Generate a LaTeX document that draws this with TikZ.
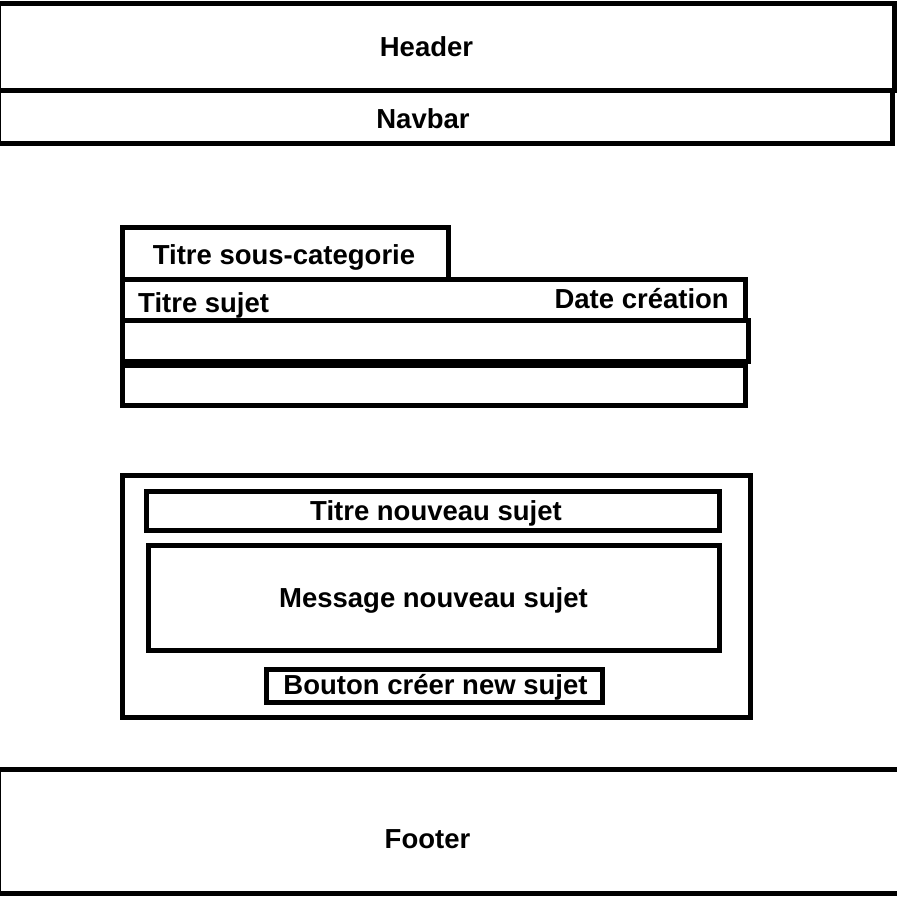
\documentclass[tikz,border=0pt]{standalone}
\usepackage{fontspec}
\setmainfont{Liberation Sans}
\begin{document}
\begin{tikzpicture}[x=1bp,y=-1bp,
		box/.style={line width=5bp},
		lbl/.style={font=\bfseries\fontsize{27.6}{32}\selectfont, inner sep=0pt, anchor=base}]
		\useasboundingbox (0,0) rectangle (897,900);
		\clip (0,0) rectangle (897,900);

		\coordinate (H1) at (-1.5,3.5);
		\coordinate (H2) at (894.5,90);
		\coordinate (N1) at (-1.5,90);
		\coordinate (N2) at (892.5,143.5);
		\coordinate (F1) at (-1.5,769.5);
		\coordinate (F2) at (905,893.5);

		\draw[box] (H1) rectangle (H2);
		\draw[box] (N1) rectangle (N2);
		\draw[box] (F1) rectangle (F2);

		\draw[box] (122.5,227.5) rectangle (448.5,279.5);
		\draw[box] (122.5,279.5) rectangle (745.5,320);
		\draw[box] (122.5,320) rectangle (748.5,361);
		\draw[box] (122.5,365) rectangle (745.5,405);

		\draw[box] (122.5,475.5) rectangle (750.5,717.5);
		\draw[box] (146.5,491.5) rectangle (719.5,530.5);
		\draw[box] (148.5,545.5) rectangle (719.5,650.5);
		\draw[box] (266.5,669.5) rectangle (602,702.5);

		\node[lbl] (header) at (426.5,56) {Header};
		\node[lbl] (navbar) at (423,128) {Navbar};
		\node[lbl] (souscat) at (284,264) {Titre sous-categorie};
		\node[lbl, anchor=base west] (sujet) at (138,312) {Titre sujet};
		\node[lbl, anchor=base east] (date) at (729,308) {Date création};
		\node[lbl] (titrenew) at (436,520) {Titre nouveau sujet};
		\node[lbl] (message) at (433.5,607) {Message nouveau sujet};
		\node[lbl] (bouton) at (435.5,694) {Bouton créer new sujet};
		\node[lbl] (footer) at (427.5,848) {Footer};
	\end{tikzpicture}
\end{document}
